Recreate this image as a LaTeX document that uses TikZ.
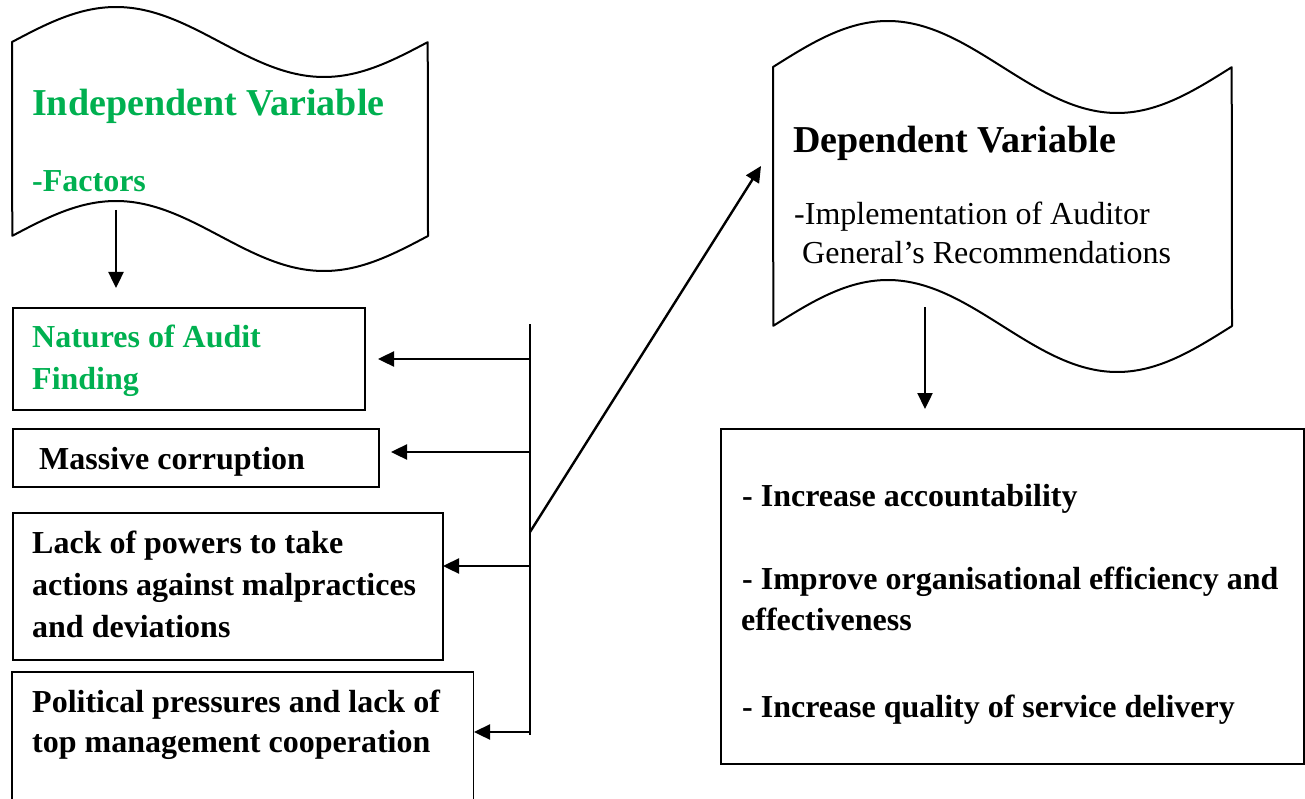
\documentclass[tikz,border=0pt]{standalone}
\usepackage{fontspec}
\setmainfont{Liberation Serif}
\usetikzlibrary{arrows.meta}
\definecolor{ivgreen}{HTML}{00B050}
\begin{document}
\begin{tikzpicture}[x=1pt,y=-1pt,
  boxline/.style={draw=black, line width=1.6pt},
  box/.style={boxline, inner sep=0pt, anchor=north west},
  ghost/.style={inner sep=0pt, anchor=north west},
  arr/.style={line width=2.4pt, -{Triangle[length=16pt,width=15pt]}},
  bus/.style={line width=1.8pt},
  wave/.style={line width=2pt, line join=round},
  lbl/.style={inner sep=0pt, anchor=base west},
  ftA/.style={font=\fontsize{32}{38}\selectfont\bfseries},
  ftB/.style={font=\fontsize{32}{38}\selectfont\bfseries},
  ftR/.style={font=\fontsize{32}{38}\selectfont},
  ftH/.style={font=\fontsize{38}{45}\selectfont\bfseries},
  ftD/.style={font=\fontsize{38}{45}\selectfont\bfseries}
]
\useasboundingbox (0,0) rectangle (1305,799);
\clip (0,0) rectangle (1305,799);

% ---------- independent variable (punched tape shape) ----------
\node[ghost, minimum width=416pt, minimum height=194pt] (ivshape) at (12,42) {};
\draw[wave] plot[domain=0:1, samples=80, smooth] ({12+416*\x},{42-35*sin(360*\x)})
  -- plot[domain=1:0, samples=80, smooth] ({12+416*\x},{236-35*sin(360*\x)}) -- cycle;
\node[lbl, ftH, text=ivgreen] (iv1) at (32,116) {Independent Variable};
\node[lbl, ftB, text=ivgreen] (iv2) at (32,192) {-Factors};

% ---------- dependent variable (punched tape shape) ----------
\node[ghost, minimum width=459pt, minimum height=259pt] (dvshape) at (773,67) {};
\draw[wave] plot[domain=0:1, samples=80, smooth] ({773+459*\x},{67-46*sin(360*\x)})
  -- plot[domain=1:0, samples=80, smooth] ({773+459*\x},{326-46*sin(360*\x)}) -- cycle;
\node[lbl, ftD] (dv1) at (793,153) {Dependent Variable};
\node[lbl, ftR] (dv2) at (794,225) {-Implementation of Auditor};
\node[lbl, ftR] (dv3) at (802,264) {General’s Recommendations};

% ---------- factor boxes ----------
\node[box, minimum width=352pt, minimum height=102pt] (nat) at (12,307) {};
\node[lbl, ftA, text=ivgreen] (nat1) at (32,347) {Natures of Audit};
\node[lbl, ftA, text=ivgreen] (nat2) at (32,389) {Finding};

\node[box, minimum width=366pt, minimum height=58pt] (mas) at (12,428) {};
\node[lbl, ftA] (mas1) at (39,469) {Massive corruption};

\node[box, minimum width=430pt, minimum height=147pt] (lack) at (12,512) {};
\node[lbl, ftA] (lack1) at (32,553) {Lack of powers to take};
\node[lbl, ftA] (lack2) at (32,595) {actions against malpractices};
\node[lbl, ftA] (lack3) at (32,637) {and deviations};

\node[ghost, minimum width=461pt, minimum height=130pt] (pol) at (12,672) {};
\draw[boxline] (pol.south west) -- (pol.north west) -- (pol.north east) -- (pol.south east);
\node[lbl, ftA] (pol1) at (32,712) {Political pressures and lack of};
\node[lbl, ftA] (pol2) at (32,752) {top management cooperation};

% ---------- outcome box ----------
\node[box, minimum width=583pt, minimum height=335pt] (out) at (720,428) {};
\node[lbl, ftB] (out1) at (742,506) {- Increase accountability};
\node[lbl, ftB] (out2) at (742,589) {- Improve organisational efficiency and};
\node[lbl, ftB] (out3) at (741,630) {effectiveness};
\node[lbl, ftB] (out4) at (742,717) {- Increase quality of service delivery};

% ---------- connectors ----------
\coordinate (busTop) at (530,324);
\coordinate (busBot) at (530,735);
\draw[bus] (busTop) -- (busBot);

\coordinate (tNat) at (378,359);
\coordinate (tMas) at (391,452);
\coordinate (tLack) at (443,566);
\coordinate (tPol) at (474,732);
\draw[arr] (busTop |- tNat) -- (tNat);
\draw[arr] (busTop |- tMas) -- (tMas);
\draw[arr] (busTop |- tLack) -- (tLack);
\draw[arr] (busTop |- tPol) -- (tPol);

\coordinate (dStart) at (530,532);
\coordinate (dTip) at (761,166);
\draw[arr] (dStart) -- (dTip);

\coordinate (ivOut) at (116,210);
\coordinate (natIn) at (116,288);
\draw[arr] (ivOut) -- (natIn);

\coordinate (dvOut) at (925,307);
\coordinate (outIn) at (925,409);
\draw[arr] (dvOut) -- (outIn);
\end{tikzpicture}
\end{document}
